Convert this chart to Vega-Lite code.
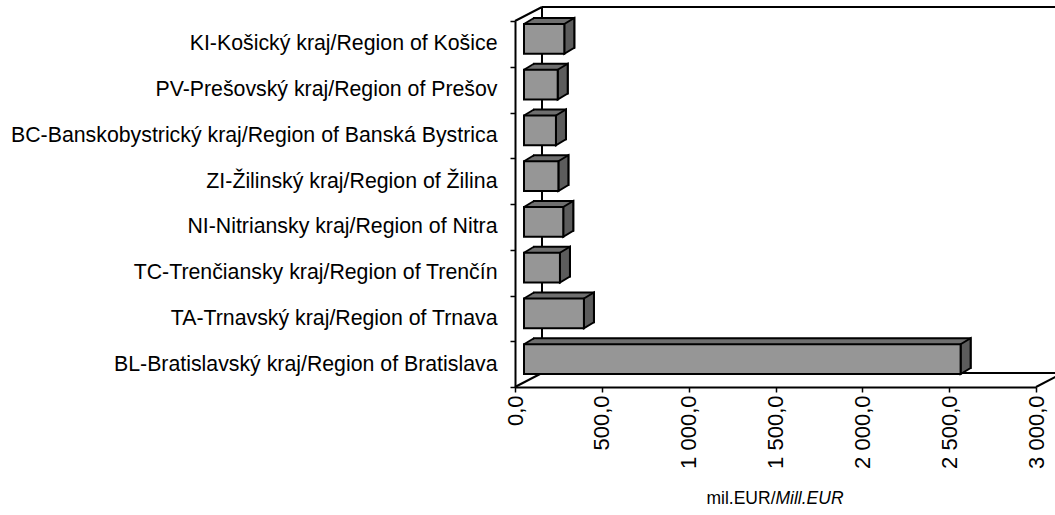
{
  "$schema": "https://vega.github.io/schema/vega-lite/v6.json",
  "width": 521,
  "height": 366,
  "autosize": "none",
  "padding": {"left": 515, "top": 21, "right": 19, "bottom": 128},
  "background": "white",
  "config": {"view": {"stroke": null}, "font": "Liberation Sans"},
  "data": {"values": [
    {"region": "KI-Košický kraj/Region of Košice", "value": 232},
    {"region": "PV-Prešovský kraj/Region of Prešov", "value": 194},
    {"region": "BC-Banskobystrický kraj/Region of Banská Bystrica", "value": 184},
    {"region": "ZI-Žilinský kraj/Region of Žilina", "value": 198},
    {"region": "NI-Nitriansky kraj/Region of Nitra", "value": 226},
    {"region": "TC-Trenčiansky kraj/Region of Trenčín", "value": 207},
    {"region": "TA-Trnavský kraj/Region of Trnava", "value": 345},
    {"region": "BL-Bratislavský kraj/Region of Bratislava", "value": 2514}
  ]},
  "layer": [
    {
      "data": {"values": [{"a": 0}]},
      "mark": {"type": "point", "shape": "M27,-36.875L560,-36.875M27,-36.875L27,329.125L560,329.125M0,-22.875L27,-36.875", "size": 4, "filled": false, "stroke": "black", "strokeWidth": 2, "opacity": 1},
      "encoding": {
        "x": {"field": "a", "type": "quantitative", "scale": {"domain": [0, 3000], "nice": false, "zero": true},
          "axis": {"values": [0, 500, 1000, 1500, 2000, 2500, 3000], "format": ",.1f",
            "labelExpr": "replace(replace(datum.label, ',', ' '), '.', ',')",
            "labelAngle": 270, "labelAlign": "right", "labelBaseline": "middle", "labelFontSize": 22, "labelColor": "black",
            "labelPadding": 3, "labelFlush": false, "labelOverlap": false, "tickSize": 5, "tickWidth": 1.5, "tickColor": "black",
            "domainColor": "black", "domainWidth": 2, "grid": false,
            "title": "mil.EUR/", "titleFontSize": 17.5, "titleFontWeight": "normal", "titleColor": "black",
            "titleX": 260, "titleY": 116, "titleAlign": "right", "titleBaseline": "alphabetic", "titleAngle": 0}},
        "y": {"datum": "KI-Košický kraj/Region of Košice", "type": "nominal"}
      }
    },
    {
      "data": {"values": [{"a": 0}, {"a": 3000}]},
      "mark": {"type": "point", "shape": "M0,22.875L27,8.875", "size": 4, "filled": false, "stroke": "black", "strokeWidth": 2, "opacity": 1},
      "encoding": {
        "x": {"field": "a", "type": "quantitative"},
        "y": {"datum": "BL-Bratislavský kraj/Region of Bratislava", "type": "nominal"}
      }
    },
    {
      "mark": {"type": "bar", "height": {"band": 0.65}, "fill": "#6f6f6f", "stroke": "black", "strokeWidth": 2, "xOffset": 19, "x2Offset": 19, "yOffset": -11, "y2Offset": -11},
      "encoding": {
        "x": {"field": "value", "type": "quantitative"},
        "y": {"field": "region", "type": "nominal", "sort": null,
          "scale": {"domain": [
            "KI-Košický kraj/Region of Košice",
            "PV-Prešovský kraj/Region of Prešov",
            "BC-Banskobystrický kraj/Region of Banská Bystrica",
            "ZI-Žilinský kraj/Region of Žilina",
            "NI-Nitriansky kraj/Region of Nitra",
            "TC-Trenčiansky kraj/Region of Trenčín",
            "TA-Trnavský kraj/Region of Trnava",
            "BL-Bratislavský kraj/Region of Bratislava"], "paddingInner": 0, "paddingOuter": 0},
          "axis": {"tickBand": "extent", "tickSize": 5, "tickWidth": 1.5, "tickColor": "black", "domainColor": "black", "domainWidth": 2,
            "labelFontSize": 21.3, "labelColor": "black", "labelPadding": 13, "labelLimit": 0, "grid": false,
            "title": "Mill.EUR", "titleFontSize": 17.5, "titleFontWeight": "normal", "titleFontStyle": "italic", "titleColor": "black",
            "titleAngle": 0, "titleX": 260, "titleY": 482, "titleAlign": "left", "titleBaseline": "alphabetic"}}
      }
    },
    {
      "mark": {"type": "point", "shape": "M0,-14.87L10,-20.87L10,8.87L0,14.87Z", "size": 4, "filled": true, "fill": "#5c5c5c", "stroke": "black", "strokeWidth": 2, "opacity": 1, "xOffset": 9, "yOffset": -5},
      "encoding": {
        "x": {"field": "value", "type": "quantitative"},
        "y": {"field": "region", "type": "nominal"}
      }
    },
    {
      "mark": {"type": "point", "shape": "M0,-14.87L10,-19.85L11.3,-19.85L11.3,-14.87Z", "size": 4, "filled": true, "fill": "#6f6f6f", "strokeWidth": 0, "opacity": 1, "xOffset": 9, "yOffset": -5},
      "encoding": {
        "x": {"datum": 0, "type": "quantitative"},
        "y": {"field": "region", "type": "nominal"}
      }
    },
    {
      "mark": {"type": "bar", "height": {"band": 0.65}, "fill": "#969696", "stroke": "black", "strokeWidth": 2, "xOffset": 9, "x2Offset": 9, "yOffset": -5, "y2Offset": -5},
      "encoding": {
        "x": {"field": "value", "type": "quantitative"},
        "y": {"field": "region", "type": "nominal"}
      }
    },
    {
      "mark": {"type": "point", "shape": "M0,-14.87L10,-20.87", "size": 4, "filled": false, "stroke": "black", "strokeWidth": 2, "opacity": 1, "xOffset": 9, "yOffset": -5},
      "encoding": {
        "x": {"datum": 0, "type": "quantitative"},
        "y": {"field": "region", "type": "nominal"}
      }
    }
  ]
}
